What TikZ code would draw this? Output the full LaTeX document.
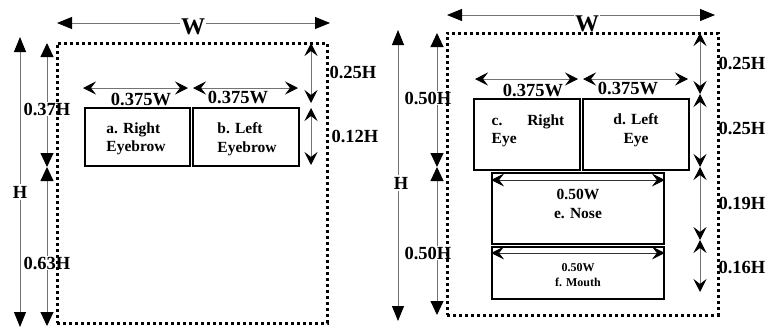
\documentclass[tikz,border=0pt]{standalone}
\usepackage{fontspec}
\setmainfont{Liberation Serif}
\usetikzlibrary{arrows.meta}
\newcommand\dimfnt{\fontsize{18.5}{20}\selectfont\bfseries}
\newcommand\bigfnt{\fontsize{24}{24}\selectfont\bfseries}
\newcommand\boxfnt{\fontsize{15.5}{18.5}\selectfont\bfseries}
\newcommand\smallfnt{\fontsize{12}{15}\selectfont\bfseries}
\begin{document}
\begin{tikzpicture}[x=1pt,y=-1pt,
  dimline/.style={draw=black!55, line width=0.9pt},
  bigarrow/.style={dimline, {Triangle[length=15pt,width=12pt,color=black]}-{Triangle[length=15pt,width=12pt,color=black]}},
  midarrow/.style={dimline, {Triangle[length=14pt,width=13pt,color=black]}-{Triangle[length=14pt,width=13pt,color=black]}},
  stlarrow/.style={dimline, {Stealth[length=13pt,width=13pt,inset=5pt,color=black]}-{Stealth[length=13pt,width=13pt,inset=5pt,color=black]}},
  dotframe/.style={draw=black, line width=3pt, dash pattern=on 3pt off 3pt, inner sep=0pt},
  partbox/.style={draw, line width=1.8pt, inner sep=0pt},
  dimlabel/.style={font=\dimfnt, fill=white, inner sep=0.5pt},
  sidelabel/.style={font=\dimfnt, inner sep=0.5pt},
]
\useasboundingbox (0,0) rectangle (769,327);
\fill[white] (0,0) rectangle (769,327);

% ---------------- left panel ----------------
\coordinate (LWl) at (57,23);  \coordinate (LWr) at (330,23);
\draw[bigarrow] (LWl) -- (LWr);
\node[font=\bigfnt, fill=white, inner sep=1pt] (LW) at (193,27) {W};

\coordinate (LHt) at (20,37);  \coordinate (LHb) at (20,327);
\draw[bigarrow] (LHt) -- (LHb);
\node[dimlabel, inner sep=1.5pt] (LH) at (20,192) {H};

\coordinate (Lit) at (47,43); \coordinate (Lim) at (47,167); \coordinate (Lib) at (47,326);
\draw[midarrow] (Lit) -- (Lim);
\draw[midarrow] (Lim) -- (Lib);
\node[dimlabel] (L37) at (47,109) {0.37H};
\node[dimlabel] (L63) at (47,263) {0.63H};

\node[partbox, minimum width=105pt, minimum height=58pt] (a) at (137.5,137) {};
\node[partbox, minimum width=106pt, minimum height=58pt] (b) at (246,137) {};
\node[font=\boxfnt, align=left] (atext) at (136,139) {a. Right\\Eyebrow};
\node[font=\boxfnt, align=left] (btext) at (247,139) {b. Left\\Eyebrow};

\coordinate (La1) at (83,88); \coordinate (La2) at (188,88);
\coordinate (Lb1) at (193,88); \coordinate (Lb2) at (298,88);
\draw[stlarrow] (La1) -- (La2);
\draw[stlarrow] (Lb1) -- (Lb2);
\node[dimlabel] (L375a) at (141,99) {0.375W};
\node[dimlabel] (L375b) at (238,97) {0.375W};

\coordinate (Lr1) at (311,43); \coordinate (Lr2) at (311,103);
\coordinate (Lr3) at (311,108); \coordinate (Lr4) at (311,165);
\draw[stlarrow] (Lr1) -- (Lr2);
\draw[stlarrow] (Lr3) -- (Lr4);
\node[sidelabel] (L25) at (353,72) {0.25H};
\node[sidelabel] (L12) at (355,136) {0.12H};

\node[dotframe, minimum width=270pt, minimum height=280pt] (frameL) at (192,183) {};

% ---------------- right panel ----------------
\coordinate (RWl) at (447,15);  \coordinate (RWr) at (715,15);
\draw[bigarrow] (RWl) -- (RWr);
\node[font=\bigfnt, fill=white, inner sep=1pt] (RW) at (587,24) {W};

\coordinate (RHt) at (398,30);  \coordinate (RHb) at (398,321);
\draw[bigarrow] (RHt) -- (RHb);
\node[dimlabel, inner sep=1.5pt] (RH) at (401,183) {H};

\coordinate (Rit) at (437,33); \coordinate (Rim) at (437,167); \coordinate (Rib) at (437,315);
\draw[midarrow] (Rit) -- (Rim);
\draw[midarrow] (Rim) -- (Rib);
\node[dimlabel] (R50a) at (428,98) {0.50H};
\node[dimlabel] (R50b) at (428,253) {0.50H};

\node[partbox, minimum width=106pt, minimum height=71pt] (c) at (527,134.5) {};
\node[partbox, minimum width=106pt, minimum height=71pt] (d) at (636,134.5) {};
\node[partbox, minimum width=172pt, minimum height=71pt] (e) at (578,208.5) {};
\node[partbox, minimum width=172pt, minimum height=52pt] (f) at (578,273) {};
\node[font=\boxfnt, align=left] (ctext) at (528,131) {c.\hspace{1.6em}Right\\Eye};
\node[font=\boxfnt, align=center] (dtext) at (636,130) {d. Left\\Eye};
\node[font=\boxfnt, align=center] (etext) at (578,204) {0.50W\\e. Nose};
\node[font=\smallfnt, align=center] (ftext) at (578,275) {0.50W\\f. Mouth};

\coordinate (Rc1) at (475,79); \coordinate (Rc2) at (578,79);
\coordinate (Rd1) at (583,79); \coordinate (Rd2) at (688,79);
\draw[stlarrow] (Rc1) -- (Rc2);
\draw[stlarrow] (Rd1) -- (Rd2);
\node[dimlabel] (R375a) at (533,90) {0.375W};
\node[dimlabel] (R375b) at (628,88) {0.375W};

\coordinate (Re1) at (e.north west |- 0,180); \coordinate (Re2) at (e.north east |- 0,180);
\draw[stlarrow, draw=black!80] (Re1) -- (Re2);
\coordinate (Rf1) at (f.north west |- 0,253); \coordinate (Rf2) at (f.north east |- 0,253);
\draw[stlarrow, draw=black!80] (Rf1) -- (Rf2);

\coordinate (Rr1) at (700,33); \coordinate (Rr2) at (700,94);
\coordinate (Rr3) at (700,167); \coordinate (Rr4) at (700,240);
\coordinate (Rr5) at (700,292);
\draw[stlarrow] (Rr1) -- (Rr2);
\draw[stlarrow] (Rr2) -- (Rr3);
\draw[stlarrow] (Rr3) -- (Rr4);
\draw[stlarrow] (Rr4) -- (Rr5);
\node[sidelabel] (R25a) at (742,63) {0.25H};
\node[sidelabel] (R25b) at (742,128) {0.25H};
\node[sidelabel] (R19) at (742,203) {0.19H};
\node[sidelabel] (R16) at (742,267) {0.16H};

\node[dotframe, minimum width=271pt, minimum height=282pt] (frameR) at (582.5,174) {};
\end{tikzpicture}
\end{document}
